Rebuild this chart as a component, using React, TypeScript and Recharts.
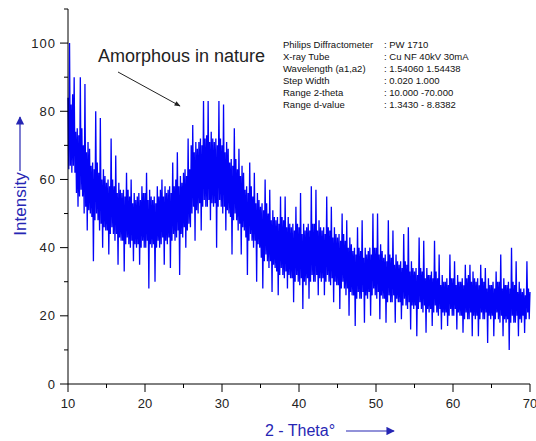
import { LineChart, Line, XAxis, YAxis } from 'recharts';

// 2-theta scan: 10 -> 70 deg, one reading every 0.1 deg (one row = one degree)
const thetaStart = 10;
const thetaStep = 0.1;

const intensity = [
  84, 63, 100, 64, 82, 62, 85, 64, 90, 62,
  74, 56, 75, 52, 73, 55, 90, 57, 75, 55,
  70, 50, 88, 52, 68, 45, 71, 51, 69, 50,
  64, 49, 65, 36, 63, 48, 80, 50, 65, 48,
  62, 45, 78, 47, 60, 40, 63, 46, 61, 45,
  59, 45, 60, 38, 58, 44, 72, 46, 60, 44,
  58, 42, 67, 44, 56, 35, 59, 43, 57, 42,
  56, 42, 57, 33, 55, 41, 62, 43, 57, 41,
  55, 40, 60, 42, 53, 36, 56, 41, 54, 40,
  55, 41, 56, 35, 54, 40, 58, 42, 56, 40,
  56, 40, 62, 42, 54, 28, 57, 41, 55, 40,
  54, 41, 55, 30, 53, 40, 58, 42, 55, 40,
  57, 41, 60, 43, 55, 35, 58, 42, 56, 41,
  57, 43, 58, 34, 56, 42, 65, 44, 58, 42,
  60, 43, 68, 45, 58, 32, 61, 44, 59, 43,
  62, 46, 63, 40, 61, 45, 72, 47, 63, 46,
  70, 50, 76, 52, 68, 42, 71, 51, 69, 50,
  71, 53, 72, 45, 70, 52, 83, 54, 72, 52,
  73, 52, 83, 54, 71, 48, 74, 53, 72, 52,
  71, 53, 72, 40, 70, 52, 83, 54, 72, 52,
  70, 50, 82, 52, 68, 45, 71, 51, 69, 50,
  65, 49, 66, 38, 64, 48, 75, 50, 66, 48,
  63, 45, 69, 47, 61, 38, 64, 46, 62, 45,
  57, 43, 58, 32, 56, 42, 65, 44, 58, 42,
  55, 40, 62, 42, 53, 30, 56, 41, 54, 40,
  52, 37, 53, 28, 51, 36, 60, 38, 53, 36,
  50, 34, 57, 36, 48, 27, 51, 35, 49, 34,
  48, 33, 49, 26, 47, 32, 55, 34, 49, 32,
  48, 31, 55, 33, 46, 28, 49, 32, 47, 31,
  46, 31, 47, 24, 45, 30, 52, 32, 47, 30,
  46, 29, 56, 31, 44, 22, 47, 30, 45, 29,
  46, 31, 47, 25, 45, 30, 58, 32, 47, 30,
  47, 30, 57, 32, 45, 26, 48, 31, 46, 30,
  45, 31, 46, 26, 44, 30, 55, 32, 46, 30,
  45, 29, 52, 31, 43, 24, 46, 30, 44, 29,
  43, 29, 44, 22, 42, 28, 50, 30, 44, 28,
  42, 26, 48, 28, 40, 20, 43, 27, 41, 26,
  39, 26, 40, 17, 38, 25, 46, 27, 40, 25,
  39, 25, 48, 27, 37, 18, 40, 26, 38, 25,
  39, 27, 40, 20, 38, 26, 50, 28, 40, 26,
  40, 25, 50, 27, 38, 19, 41, 26, 39, 25,
  37, 25, 38, 18, 36, 24, 48, 26, 38, 24,
  37, 24, 45, 26, 35, 18, 38, 25, 36, 24,
  35, 24, 36, 19, 34, 23, 44, 25, 36, 23,
  35, 22, 46, 24, 33, 16, 36, 23, 34, 22,
  33, 23, 34, 14, 32, 22, 43, 24, 34, 22,
  33, 21, 42, 23, 31, 15, 34, 22, 32, 21,
  32, 22, 33, 17, 31, 21, 42, 23, 33, 21,
  31, 20, 38, 22, 29, 16, 32, 21, 30, 20,
  30, 21, 31, 17, 29, 20, 38, 22, 31, 20,
  31, 20, 36, 22, 29, 16, 32, 21, 30, 20,
  30, 20, 31, 15, 29, 19, 35, 21, 31, 19,
  32, 19, 35, 21, 30, 14, 33, 20, 31, 19,
  30, 20, 31, 14, 29, 19, 35, 21, 31, 19,
  30, 19, 34, 21, 28, 12, 31, 20, 29, 19,
  29, 20, 30, 14, 28, 19, 33, 21, 30, 19,
  30, 18, 38, 20, 28, 14, 31, 19, 29, 18,
  29, 19, 30, 10, 28, 18, 40, 20, 30, 18,
  29, 18, 36, 20, 27, 14, 30, 19, 28, 18,
  27, 20, 28, 15, 26, 19, 36, 21, 28, 19,
  27,
];

const xTicks = [10, 15, 20, 25, 30, 35, 40, 45, 50, 55, 60, 65, 70];
const xLabels = [10, 20, 30, 40, 50, 60, 70];
const yTicks = [0, 10, 20, 30, 40, 50, 60, 70, 80, 90, 100, 110];
const yLabels = [0, 20, 40, 60, 80, 100];

const infoLabels = [
  'Philips Diffractometer',
  'X-ray Tube',
  'Wavelength (a1,a2)',
  'Step Width',
  'Range 2-theta',
  'Range d-value',
];
const infoValues = [
  ': PW 1710',
  ': Cu NF 40kV 30mA',
  ': 1.54060 1.54438',
  ': 0.020  1.000',
  ': 10.000 -70.000',
  ': 1.3430 - 8.8382',
];

const data = intensity.map((v, i) => ({
  theta: +(thetaStart + i * thetaStep).toFixed(1),
  counts: v,
}));

const font = '"Liberation Sans", Arial, sans-serif';
const labelBlue = '#2626b4';

function YTick(props: any) {
  const { x, y, payload } = props;
  const major = yLabels.includes(payload.value);
  return (
    <g>
      <line x1={x} x2={x - (major ? 8 : 4)} y1={y} y2={y} stroke="#000" />
      {major && (
        <text x={x - 12} y={y} dy="0.36em" textAnchor="end" fontSize={13} letterSpacing={1}
          fontFamily={font} fill="#222">
          {payload.value}
        </text>
      )}
    </g>
  );
}

function XTick(props: any) {
  const { x, y, payload } = props;
  const major = xLabels.includes(payload.value);
  return (
    <g>
      <line x1={x} x2={x} y1={y} y2={y + (major ? 8 : 4)} stroke="#000" />
      {major && (
        <text x={x} y={y + 24} textAnchor="middle" fontSize={13}
          fontFamily={font} fill="#222">
          {payload.value}
        </text>
      )}
    </g>
  );
}

export default function App() {
  return (
    <div style={{ position: 'absolute', left: 0, top: 0, width: 536, height: 441, background: '#fff' }}>
      <LineChart width={536} height={441} data={data} margin={{ top: 9, right: 6, bottom: 0, left: 0 }}>
        <XAxis
          dataKey="theta"
          type="number"
          domain={[10, 70]}
          ticks={xTicks}
          interval={0}
          height={57}
          tickSize={0}
          tickMargin={0}
          tickLine={false}
          axisLine={{ stroke: '#000' }}
          tick={(p: any) => <XTick {...p} />}
        />
        <YAxis
          type="number"
          domain={[0, 110]}
          ticks={yTicks}
          interval={0}
          width={68}
          tickSize={0}
          tickMargin={0}
          tickLine={false}
          axisLine={{ stroke: '#000' }}
          tick={(p: any) => <YTick {...p} />}
        />
        <Line
          type="linear"
          dataKey="counts"
          stroke="#0303f8"
          strokeWidth={1.3}
          dot={false}
          isAnimationActive={false}
        />
      </LineChart>
      <svg width={536} height={441} style={{ position: 'absolute', left: 0, top: 0, pointerEvents: 'none' }}>
        <defs>
          <marker id="blueHead" viewBox="0 0 10 10" refX="9" refY="5" markerWidth="7" markerHeight="7" orient="auto">
            <path d="M0,0 L10,5 L0,10 z" fill={labelBlue} />
          </marker>
          <marker id="blackHead" viewBox="0 0 10 10" refX="9" refY="5" markerWidth="7" markerHeight="6" orient="auto">
            <path d="M0,1 L10,5 L0,9 z" fill="#222" />
          </marker>
        </defs>
        <text x={20} y={204} transform="rotate(-90 20 204)" textAnchor="middle" dy="0.35em"
          fontSize={17} fontFamily={font} fill={labelBlue}>
          Intensity
        </text>
        <line x1={20} y1={171} x2={20} y2={117} stroke={labelBlue} strokeWidth={1.2} markerEnd="url(#blueHead)" />
        <text x={300} y={436} textAnchor="middle" fontSize={16} fontFamily={font} fill={labelBlue}>
          2 - Theta°
        </text>
        <line x1={346} y1={431} x2={394} y2={431} stroke={labelBlue} strokeWidth={1.2} markerEnd="url(#blueHead)" />
        <text x={98} y={62} fontSize={18} fontFamily={font} fill="#222">
          Amorphous in nature
        </text>
        <line x1={118} y1={72} x2={180} y2={106} stroke="#222" strokeWidth={1} markerEnd="url(#blackHead)" />
        {infoLabels.map((t, i) => (
          <g key={t}>
            <text x={283} y={48 + i * 12} fontSize={9.5} fontFamily={font} fill="#111">{t}</text>
            <text x={384} y={48 + i * 12} fontSize={9.5} fontFamily={font} fill="#111">{infoValues[i]}</text>
          </g>
        ))}
      </svg>
    </div>
  );
}
